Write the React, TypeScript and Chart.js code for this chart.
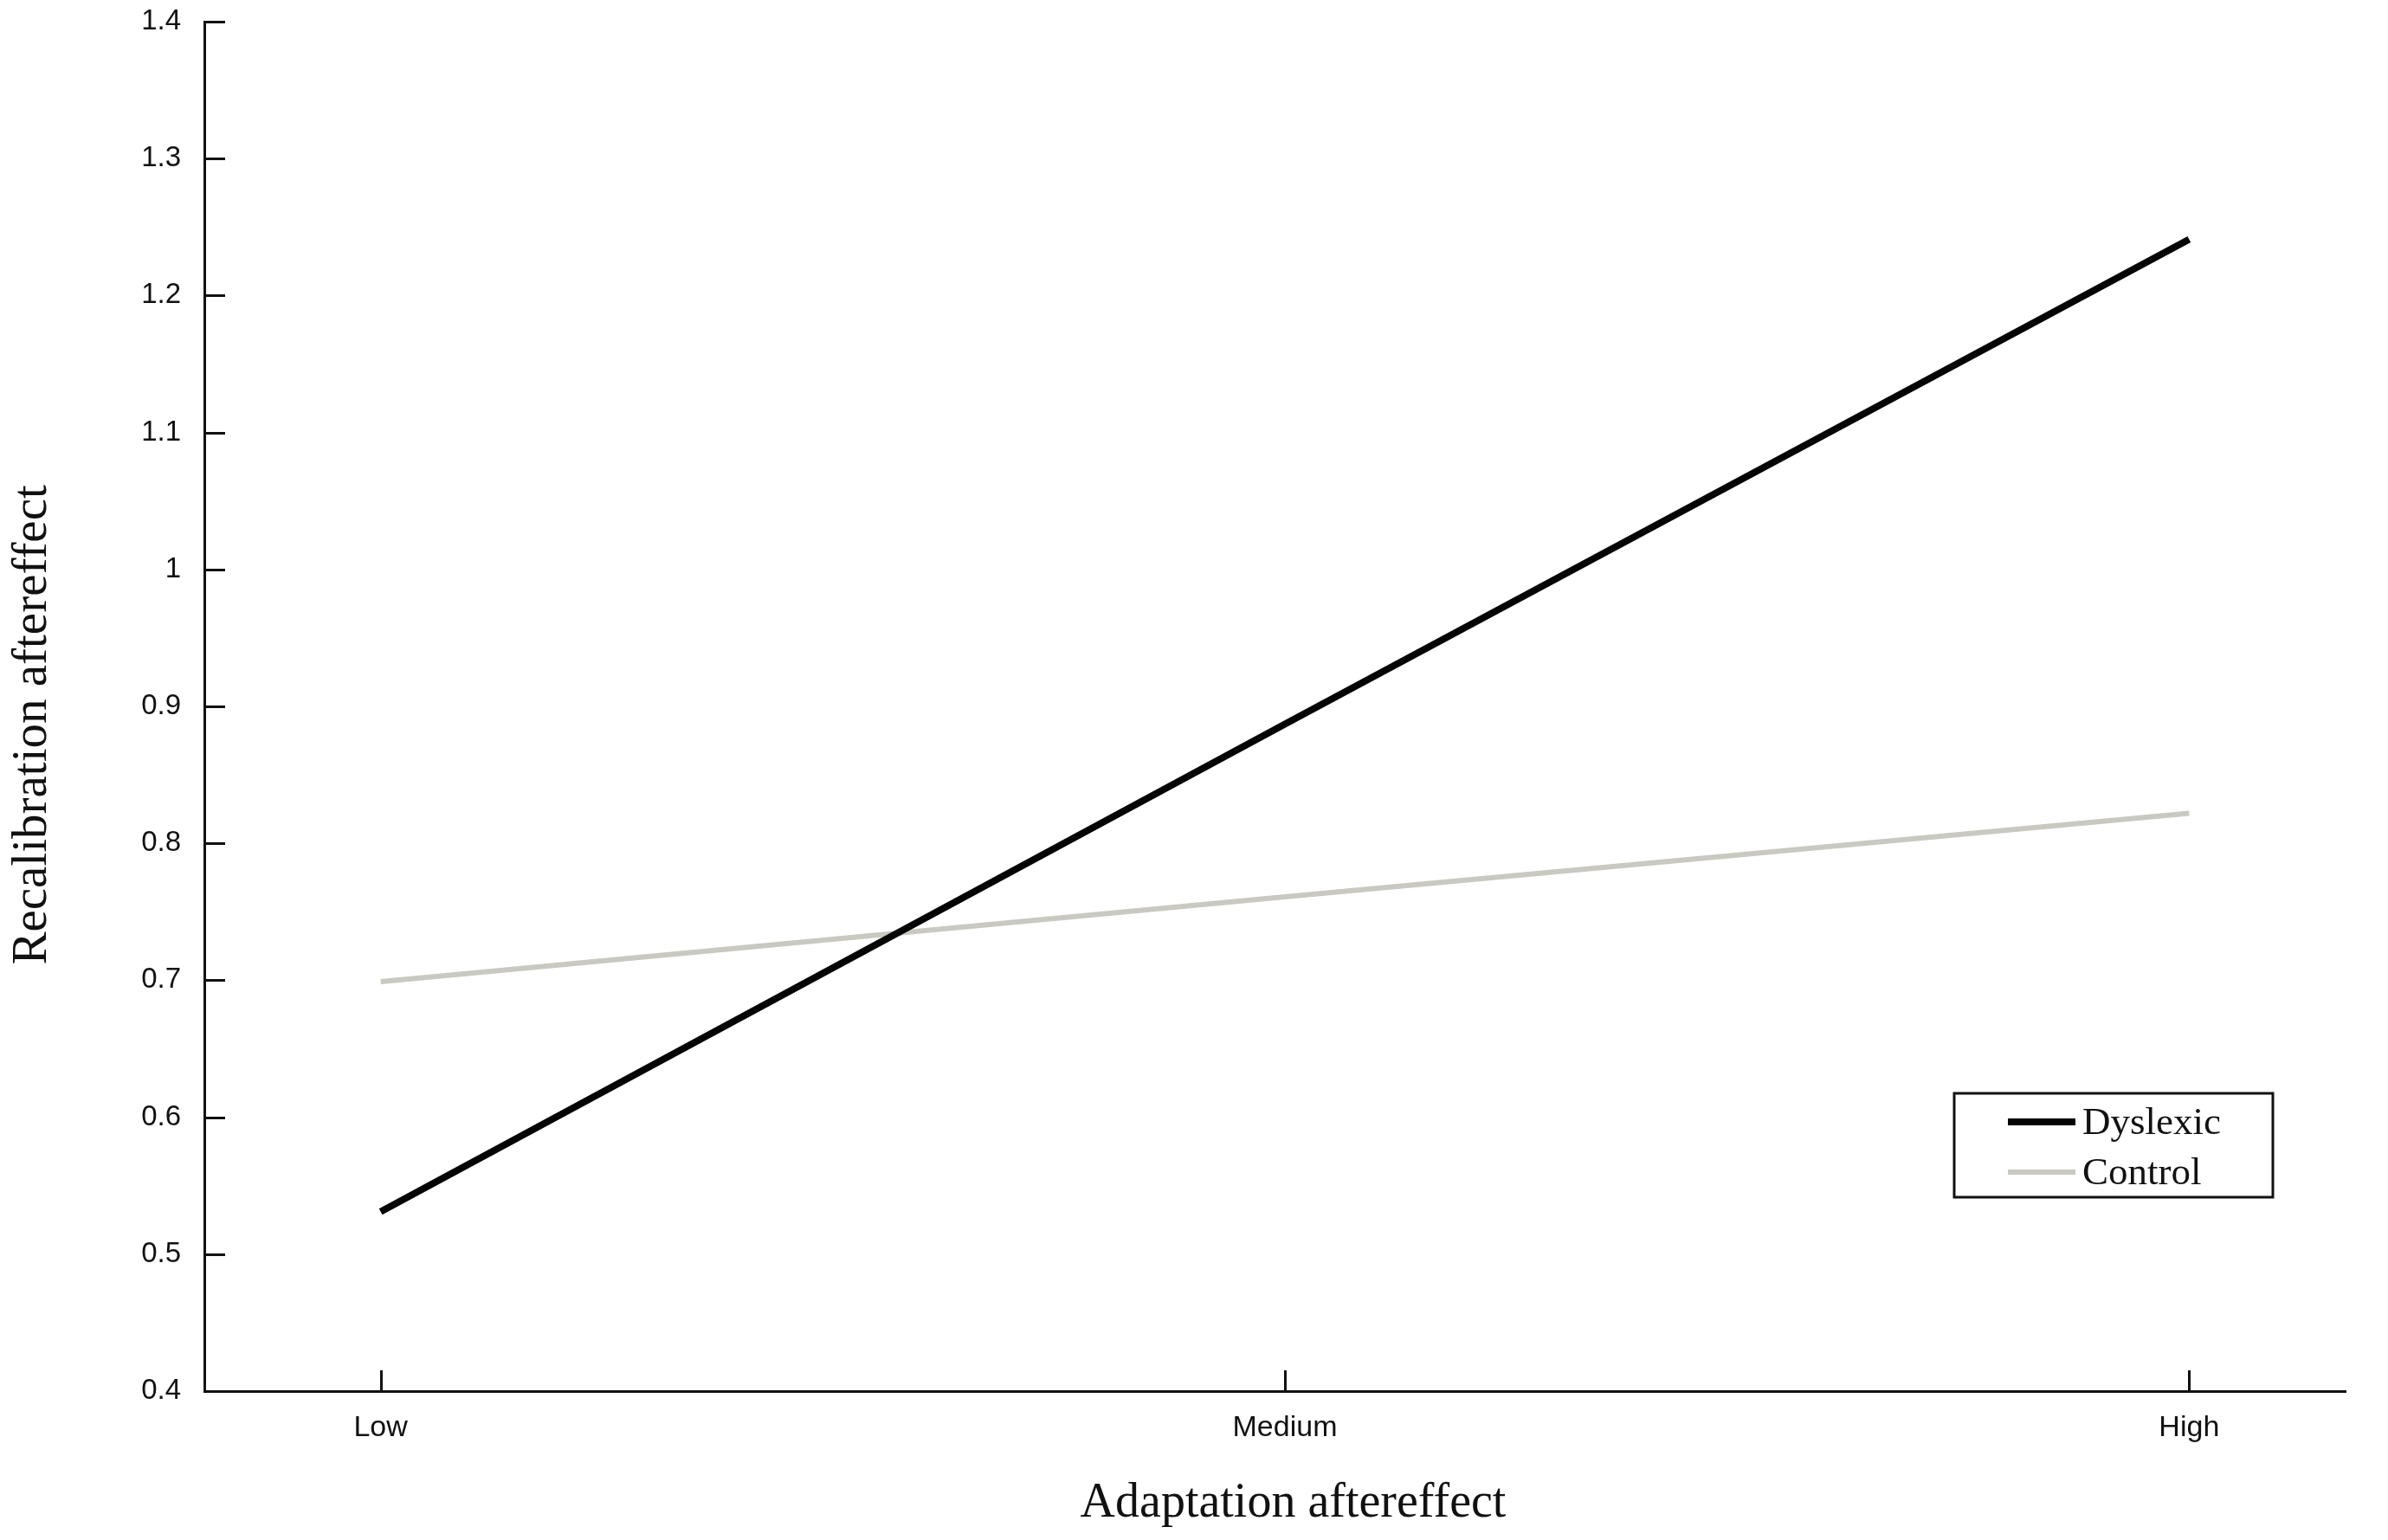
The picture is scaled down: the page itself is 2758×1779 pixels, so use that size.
import React, { useEffect, useRef } from "react";
import { Chart, registerables } from "chart.js";

Chart.register(...registerables);

// ---- data ----
const categories = ["Low", "Medium", "High"];
const dyslexicValues = [0.531, 0.887, 1.241];
const controlValues = [0.699, 0.761, 0.822];
const seriesNames = ["Dyslexic", "Control"];
const yMin = 0.4;
const yMax = 1.4;
const yStep = 0.1;
const xTitle = "Adaptation aftereffect";
const yTitle = "Recalibration aftereffect";

const W = 2758;
const H = 1779;

const inwardTicksPlugin = {
  id: "inwardTicks",
  afterDatasetsDraw(chart: any) {
    const { ctx, chartArea, scales } = chart;
    const len = 24;
    ctx.save();
    ctx.strokeStyle = "#111";
    ctx.lineWidth = 3;
    ctx.lineCap = "butt";
    scales.y.ticks.forEach((t: any) => {
      const y = Math.round(scales.y.getPixelForValue(t.value)) + 0.5;
      ctx.beginPath();
      ctx.moveTo(chartArea.left, y);
      ctx.lineTo(chartArea.left + len, y);
      ctx.stroke();
    });
    scales.x.ticks.forEach((t: any) => {
      const x = Math.round(scales.x.getPixelForValue(t.value)) + 0.5;
      ctx.beginPath();
      ctx.moveTo(x, chartArea.bottom);
      ctx.lineTo(x, chartArea.bottom - len);
      ctx.stroke();
    });
    ctx.restore();
  },
};

const boxLegendPlugin = {
  id: "boxLegend",
  afterDraw(chart: any) {
    const { ctx, chartArea } = chart;
    const bx = chartArea.right - 452;
    const by = chartArea.bottom - 344;
    const bw = 368;
    const bh = 120;
    ctx.save();
    ctx.fillStyle = "#fff";
    ctx.fillRect(bx, by, bw, bh);
    ctx.strokeStyle = "#111";
    ctx.lineWidth = 3;
    ctx.strokeRect(bx, by, bw, bh);
    const rows = [by + 33, by + 91];
    chart.data.datasets.forEach((ds: any, i: number) => {
      const y = rows[i];
      ctx.strokeStyle = ds.borderColor;
      ctx.lineWidth = ds.borderWidth;
      ctx.beginPath();
      ctx.moveTo(bx + 62, y);
      ctx.lineTo(bx + 140, y);
      ctx.stroke();
      ctx.fillStyle = "#111";
      ctx.font = "45px 'Liberation Serif', 'Times New Roman', serif";
      ctx.textBaseline = "middle";
      ctx.textAlign = "left";
      ctx.fillText(ds.label, bx + 148, y + 2);
    });
    ctx.restore();
  },
};

export default function App() {
  const canvasRef = useRef<HTMLCanvasElement | null>(null);

  useEffect(() => {
    document.body.style.margin = "0";
    document.body.style.overflow = "hidden";
    const canvas = canvasRef.current;
    if (!canvas) return;
    const chart = new Chart(canvas, {
      type: "line",
      data: {
        datasets: [
          {
            label: seriesNames[0],
            data: dyslexicValues.map((v, i) => ({ x: i, y: v })),
            borderColor: "#050505",
            borderWidth: 8,
            pointRadius: 0,
            fill: false,
            tension: 0,
          },
          {
            label: seriesNames[1],
            data: controlValues.map((v, i) => ({ x: i, y: v })),
            borderColor: "#c9c9c2",
            borderWidth: 6,
            pointRadius: 0,
            fill: false,
            tension: 0,
          },
        ],
      },
      options: {
        responsive: false,
        animation: false,
        devicePixelRatio: 1,
        layout: { padding: { top: 25, right: 49, left: 0, bottom: 0 } },
        plugins: {
          legend: { display: false },
          tooltip: { enabled: false },
        },
        scales: {
          x: {
            type: "linear",
            min: -0.195,
            max: categories.length - 1 + 0.173,
            afterBuildTicks: (scale: any) => {
              scale.ticks = categories.map((_, i) => ({ value: i }));
            },
            afterFit: (scale: any) => {
              scale.height = 172;
              scale.paddingLeft = 0;
              scale.paddingRight = 0;
            },
            grid: { display: false, drawTicks: false },
            border: { display: true, color: "#111", width: 3 },
            ticks: {
              autoSkip: false,
              maxRotation: 0,
              padding: 22,
              color: "#111",
              font: { family: "'Liberation Sans', Arial, sans-serif", size: 34 },
              callback: (v: any) => categories[v] ?? "",
            },
            title: {
              display: true,
              text: "   " + xTitle,
              color: "#111",
              font: { family: "'Liberation Serif', 'Times New Roman', serif", size: 56 },
              padding: { top: 0, bottom: 8 },
            },
          },
          y: {
            type: "linear",
            min: yMin,
            max: yMax,
            afterFit: (scale: any) => {
              scale.width = 236;
              scale.paddingTop = 0;
              scale.paddingBottom = 0;
            },
            grid: { display: false, drawTicks: false },
            border: { display: true, color: "#111", width: 3 },
            ticks: {
              stepSize: yStep,
              padding: 27,
              color: "#111",
              font: { family: "'Liberation Sans', Arial, sans-serif", size: 33 },
              callback: (v: any) => String(Number(Number(v).toFixed(1))),
            },
            title: {
              display: true,
              text: yTitle + "   ",
              color: "#111",
              font: { family: "'Liberation Serif', 'Times New Roman', serif", size: 57 },
              padding: { top: 4, bottom: 0 },
            },
          },
        },
      },
      plugins: [inwardTicksPlugin, boxLegendPlugin],
    });
    return () => chart.destroy();
  }, []);

  return (
    <div style={{ width: W, height: H, background: "#fff", overflow: "hidden" }}>
      <canvas ref={canvasRef} width={W} height={H} style={{ display: "block", width: W, height: H }} />
    </div>
  );
}
